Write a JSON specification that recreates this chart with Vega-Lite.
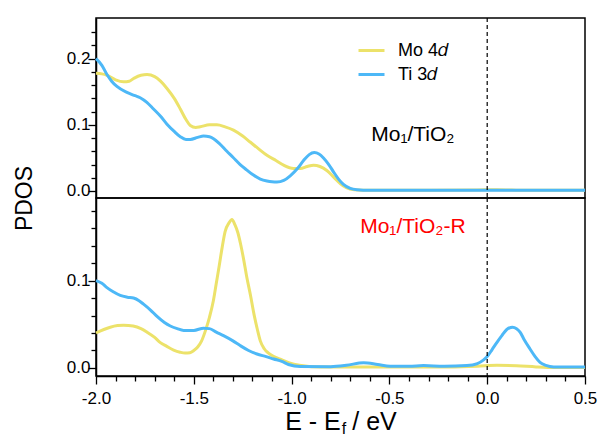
{
  "$schema": "https://vega.github.io/schema/vega-lite/v6.json",
  "padding": {"left": 12, "top": 16, "right": 5, "bottom": 0},
  "spacing": 0,
  "bounds": "flush",
  "config": {
    "font": "Liberation Sans",
    "view": {"stroke": "black", "strokeWidth": 1.5},
    "axis": {"labelFont": "Liberation Sans", "titleFont": "Liberation Sans", "labelColor": "black", "titleColor": "black", "domainColor": "black", "domainWidth": 1.5, "tickColor": "black", "tickWidth": 1.3, "grid": false, "labelFontSize": 17, "titleFontWeight": "normal", "labelFlush": false}
  },
  "datasets": {
    "pdos": [
      {"p":"top","s":"Mo 4𝑑","E":-2.0,"v":0.178},{"p":"top","s":"Mo 4𝑑","E":-1.97,"v":0.177},{"p":"top","s":"Mo 4𝑑","E":-1.944,"v":0.175},{"p":"top","s":"Mo 4𝑑","E":-1.9,"v":0.168},{"p":"top","s":"Mo 4𝑑","E":-1.859,"v":0.165},{"p":"top","s":"Mo 4𝑑","E":-1.83,"v":0.166},{"p":"top","s":"Mo 4𝑑","E":-1.808,"v":0.17},{"p":"top","s":"Mo 4𝑑","E":-1.77,"v":0.175},{"p":"top","s":"Mo 4𝑑","E":-1.739,"v":0.176},{"p":"top","s":"Mo 4𝑑","E":-1.7,"v":0.173},{"p":"top","s":"Mo 4𝑑","E":-1.67,"v":0.166},{"p":"top","s":"Mo 4𝑑","E":-1.637,"v":0.155},{"p":"top","s":"Mo 4𝑑","E":-1.6,"v":0.14},{"p":"top","s":"Mo 4𝑑","E":-1.569,"v":0.124},{"p":"top","s":"Mo 4𝑑","E":-1.54,"v":0.108},{"p":"top","s":"Mo 4𝑑","E":-1.518,"v":0.099},{"p":"top","s":"Mo 4𝑑","E":-1.49,"v":0.096},{"p":"top","s":"Mo 4𝑑","E":-1.467,"v":0.097},{"p":"top","s":"Mo 4𝑑","E":-1.42,"v":0.1},{"p":"top","s":"Mo 4𝑑","E":-1.382,"v":0.1},{"p":"top","s":"Mo 4𝑑","E":-1.34,"v":0.097},{"p":"top","s":"Mo 4𝑑","E":-1.297,"v":0.092},{"p":"top","s":"Mo 4𝑑","E":-1.25,"v":0.083},{"p":"top","s":"Mo 4𝑑","E":-1.212,"v":0.074},{"p":"top","s":"Mo 4𝑑","E":-1.17,"v":0.064},{"p":"top","s":"Mo 4𝑑","E":-1.126,"v":0.054},{"p":"top","s":"Mo 4𝑑","E":-1.08,"v":0.046},{"p":"top","s":"Mo 4𝑑","E":-1.041,"v":0.039},{"p":"top","s":"Mo 4𝑑","E":-0.99,"v":0.034},{"p":"top","s":"Mo 4𝑑","E":-0.956,"v":0.034},{"p":"top","s":"Mo 4𝑑","E":-0.92,"v":0.037},{"p":"top","s":"Mo 4𝑑","E":-0.888,"v":0.039},{"p":"top","s":"Mo 4𝑑","E":-0.855,"v":0.037},{"p":"top","s":"Mo 4𝑑","E":-0.82,"v":0.031},{"p":"top","s":"Mo 4𝑑","E":-0.785,"v":0.021},{"p":"top","s":"Mo 4𝑑","E":-0.75,"v":0.011},{"p":"top","s":"Mo 4𝑑","E":-0.72,"v":0.005},{"p":"top","s":"Mo 4𝑑","E":-0.68,"v":0.002},{"p":"top","s":"Mo 4𝑑","E":-0.6,"v":0.001},{"p":"top","s":"Mo 4𝑑","E":-0.3,"v":0.001},{"p":"top","s":"Mo 4𝑑","E":-0.05,"v":0.0015},{"p":"top","s":"Mo 4𝑑","E":0.05,"v":0.002},{"p":"top","s":"Mo 4𝑑","E":0.2,"v":0.001},{"p":"top","s":"Mo 4𝑑","E":0.5,"v":0.001},
      {"p":"top","s":"Ti 3𝑑","E":-2.0,"v":0.2},{"p":"top","s":"Ti 3𝑑","E":-1.97,"v":0.19},{"p":"top","s":"Ti 3𝑑","E":-1.944,"v":0.176},{"p":"top","s":"Ti 3𝑑","E":-1.92,"v":0.166},{"p":"top","s":"Ti 3𝑑","E":-1.893,"v":0.158},{"p":"top","s":"Ti 3𝑑","E":-1.842,"v":0.149},{"p":"top","s":"Ti 3𝑑","E":-1.8,"v":0.144},{"p":"top","s":"Ti 3𝑑","E":-1.774,"v":0.141},{"p":"top","s":"Ti 3𝑑","E":-1.74,"v":0.134},{"p":"top","s":"Ti 3𝑑","E":-1.706,"v":0.124},{"p":"top","s":"Ti 3𝑑","E":-1.67,"v":0.113},{"p":"top","s":"Ti 3𝑑","E":-1.637,"v":0.101},{"p":"top","s":"Ti 3𝑑","E":-1.6,"v":0.09},{"p":"top","s":"Ti 3𝑑","E":-1.569,"v":0.082},{"p":"top","s":"Ti 3𝑑","E":-1.54,"v":0.078},{"p":"top","s":"Ti 3𝑑","E":-1.518,"v":0.078},{"p":"top","s":"Ti 3𝑑","E":-1.48,"v":0.081},{"p":"top","s":"Ti 3𝑑","E":-1.45,"v":0.083},{"p":"top","s":"Ti 3𝑑","E":-1.42,"v":0.082},{"p":"top","s":"Ti 3𝑑","E":-1.399,"v":0.079},{"p":"top","s":"Ti 3𝑑","E":-1.37,"v":0.072},{"p":"top","s":"Ti 3𝑑","E":-1.331,"v":0.06},{"p":"top","s":"Ti 3𝑑","E":-1.3,"v":0.051},{"p":"top","s":"Ti 3𝑑","E":-1.263,"v":0.04},{"p":"top","s":"Ti 3𝑑","E":-1.23,"v":0.032},{"p":"top","s":"Ti 3𝑑","E":-1.195,"v":0.024},{"p":"top","s":"Ti 3𝑑","E":-1.16,"v":0.018},{"p":"top","s":"Ti 3𝑑","E":-1.126,"v":0.015},{"p":"top","s":"Ti 3𝑑","E":-1.1,"v":0.0138},{"p":"top","s":"Ti 3𝑑","E":-1.075,"v":0.0135},{"p":"top","s":"Ti 3𝑑","E":-1.04,"v":0.016},{"p":"top","s":"Ti 3𝑑","E":-1.007,"v":0.023},{"p":"top","s":"Ti 3𝑑","E":-0.97,"v":0.034},{"p":"top","s":"Ti 3𝑑","E":-0.939,"v":0.046},{"p":"top","s":"Ti 3𝑑","E":-0.91,"v":0.055},{"p":"top","s":"Ti 3𝑑","E":-0.884,"v":0.058},{"p":"top","s":"Ti 3𝑑","E":-0.86,"v":0.056},{"p":"top","s":"Ti 3𝑑","E":-0.837,"v":0.05},{"p":"top","s":"Ti 3𝑑","E":-0.81,"v":0.04},{"p":"top","s":"Ti 3𝑑","E":-0.786,"v":0.029},{"p":"top","s":"Ti 3𝑑","E":-0.76,"v":0.018},{"p":"top","s":"Ti 3𝑑","E":-0.735,"v":0.01},{"p":"top","s":"Ti 3𝑑","E":-0.7,"v":0.004},{"p":"top","s":"Ti 3𝑑","E":-0.666,"v":0.002},{"p":"top","s":"Ti 3𝑑","E":-0.6,"v":0.001},{"p":"top","s":"Ti 3𝑑","E":-0.2,"v":0.001},{"p":"top","s":"Ti 3𝑑","E":0.5,"v":0.001},
      {"p":"bot","s":"Mo 4𝑑","E":-2.0,"v":0.04},{"p":"bot","s":"Mo 4𝑑","E":-1.96,"v":0.044},{"p":"bot","s":"Mo 4𝑑","E":-1.927,"v":0.0466},{"p":"bot","s":"Mo 4𝑑","E":-1.89,"v":0.0485},{"p":"bot","s":"Mo 4𝑑","E":-1.859,"v":0.049},{"p":"bot","s":"Mo 4𝑑","E":-1.81,"v":0.048},{"p":"bot","s":"Mo 4𝑑","E":-1.77,"v":0.045},{"p":"bot","s":"Mo 4𝑑","E":-1.739,"v":0.041},{"p":"bot","s":"Mo 4𝑑","E":-1.7,"v":0.035},{"p":"bot","s":"Mo 4𝑑","E":-1.671,"v":0.029},{"p":"bot","s":"Mo 4𝑑","E":-1.64,"v":0.025},{"p":"bot","s":"Mo 4𝑑","E":-1.603,"v":0.0205},{"p":"bot","s":"Mo 4𝑑","E":-1.57,"v":0.018},{"p":"bot","s":"Mo 4𝑑","E":-1.545,"v":0.017},{"p":"bot","s":"Mo 4𝑑","E":-1.52,"v":0.0175},{"p":"bot","s":"Mo 4𝑑","E":-1.5,"v":0.02},{"p":"bot","s":"Mo 4𝑑","E":-1.48,"v":0.024},{"p":"bot","s":"Mo 4𝑑","E":-1.46,"v":0.031},{"p":"bot","s":"Mo 4𝑑","E":-1.44,"v":0.043},{"p":"bot","s":"Mo 4𝑑","E":-1.42,"v":0.058},{"p":"bot","s":"Mo 4𝑑","E":-1.4,"v":0.077},{"p":"bot","s":"Mo 4𝑑","E":-1.385,"v":0.097},{"p":"bot","s":"Mo 4𝑑","E":-1.37,"v":0.117},{"p":"bot","s":"Mo 4𝑑","E":-1.355,"v":0.138},{"p":"bot","s":"Mo 4𝑑","E":-1.34,"v":0.156},{"p":"bot","s":"Mo 4𝑑","E":-1.32,"v":0.166},{"p":"bot","s":"Mo 4𝑑","E":-1.305,"v":0.17},{"p":"bot","s":"Mo 4𝑑","E":-1.29,"v":0.164},{"p":"bot","s":"Mo 4𝑑","E":-1.275,"v":0.155},{"p":"bot","s":"Mo 4𝑑","E":-1.26,"v":0.141},{"p":"bot","s":"Mo 4𝑑","E":-1.245,"v":0.124},{"p":"bot","s":"Mo 4𝑑","E":-1.23,"v":0.105},{"p":"bot","s":"Mo 4𝑑","E":-1.21,"v":0.083},{"p":"bot","s":"Mo 4𝑑","E":-1.19,"v":0.059},{"p":"bot","s":"Mo 4𝑑","E":-1.175,"v":0.044},{"p":"bot","s":"Mo 4𝑑","E":-1.16,"v":0.031},{"p":"bot","s":"Mo 4𝑑","E":-1.14,"v":0.022},{"p":"bot","s":"Mo 4𝑑","E":-1.118,"v":0.017},{"p":"bot","s":"Mo 4𝑑","E":-1.09,"v":0.013},{"p":"bot","s":"Mo 4𝑑","E":-1.058,"v":0.01},{"p":"bot","s":"Mo 4𝑑","E":-1.011,"v":0.0057},{"p":"bot","s":"Mo 4𝑑","E":-0.96,"v":0.003},{"p":"bot","s":"Mo 4𝑑","E":-0.9,"v":0.0015},{"p":"bot","s":"Mo 4𝑑","E":-0.8,"v":0.001},{"p":"bot","s":"Mo 4𝑑","E":-0.5,"v":0.001},{"p":"bot","s":"Mo 4𝑑","E":-0.2,"v":0.0012},{"p":"bot","s":"Mo 4𝑑","E":-0.05,"v":0.002},{"p":"bot","s":"Mo 4𝑑","E":0.05,"v":0.003},{"p":"bot","s":"Mo 4𝑑","E":0.15,"v":0.0025},{"p":"bot","s":"Mo 4𝑑","E":0.25,"v":0.0012},{"p":"bot","s":"Mo 4𝑑","E":0.35,"v":0.0005},{"p":"bot","s":"Mo 4𝑑","E":0.5,"v":0.0005},
      {"p":"bot","s":"Ti 3𝑑","E":-2.0,"v":0.1},{"p":"bot","s":"Ti 3𝑑","E":-1.97,"v":0.097},{"p":"bot","s":"Ti 3𝑑","E":-1.944,"v":0.092},{"p":"bot","s":"Ti 3𝑑","E":-1.91,"v":0.087},{"p":"bot","s":"Ti 3𝑑","E":-1.876,"v":0.083},{"p":"bot","s":"Ti 3𝑑","E":-1.84,"v":0.081},{"p":"bot","s":"Ti 3𝑑","E":-1.808,"v":0.08},{"p":"bot","s":"Ti 3𝑑","E":-1.78,"v":0.077},{"p":"bot","s":"Ti 3𝑑","E":-1.757,"v":0.073},{"p":"bot","s":"Ti 3𝑑","E":-1.72,"v":0.066},{"p":"bot","s":"Ti 3𝑑","E":-1.688,"v":0.059},{"p":"bot","s":"Ti 3𝑑","E":-1.65,"v":0.052},{"p":"bot","s":"Ti 3𝑑","E":-1.62,"v":0.048},{"p":"bot","s":"Ti 3𝑑","E":-1.585,"v":0.045},{"p":"bot","s":"Ti 3𝑑","E":-1.552,"v":0.043},{"p":"bot","s":"Ti 3𝑑","E":-1.5,"v":0.043},{"p":"bot","s":"Ti 3𝑑","E":-1.45,"v":0.0455},{"p":"bot","s":"Ti 3𝑑","E":-1.42,"v":0.045},{"p":"bot","s":"Ti 3𝑑","E":-1.385,"v":0.041},{"p":"bot","s":"Ti 3𝑑","E":-1.348,"v":0.037},{"p":"bot","s":"Ti 3𝑑","E":-1.3,"v":0.031},{"p":"bot","s":"Ti 3𝑑","E":-1.263,"v":0.0256},{"p":"bot","s":"Ti 3𝑑","E":-1.22,"v":0.02},{"p":"bot","s":"Ti 3𝑑","E":-1.177,"v":0.016},{"p":"bot","s":"Ti 3𝑑","E":-1.13,"v":0.013},{"p":"bot","s":"Ti 3𝑑","E":-1.092,"v":0.0103},{"p":"bot","s":"Ti 3𝑑","E":-1.05,"v":0.0075},{"p":"bot","s":"Ti 3𝑑","E":-1.016,"v":0.004},{"p":"bot","s":"Ti 3𝑑","E":-0.956,"v":0.0016},{"p":"bot","s":"Ti 3𝑑","E":-0.8,"v":0.0015},{"p":"bot","s":"Ti 3𝑑","E":-0.72,"v":0.003},{"p":"bot","s":"Ti 3𝑑","E":-0.632,"v":0.006},{"p":"bot","s":"Ti 3𝑑","E":-0.56,"v":0.004},{"p":"bot","s":"Ti 3𝑑","E":-0.496,"v":0.002},{"p":"bot","s":"Ti 3𝑑","E":-0.4,"v":0.002},{"p":"bot","s":"Ti 3𝑑","E":-0.326,"v":0.0027},{"p":"bot","s":"Ti 3𝑑","E":-0.22,"v":0.002},{"p":"bot","s":"Ti 3𝑑","E":-0.104,"v":0.0027},{"p":"bot","s":"Ti 3𝑑","E":-0.05,"v":0.005},{"p":"bot","s":"Ti 3𝑑","E":-0.02,"v":0.009},{"p":"bot","s":"Ti 3𝑑","E":0.0,"v":0.013},{"p":"bot","s":"Ti 3𝑑","E":0.025,"v":0.021},{"p":"bot","s":"Ti 3𝑑","E":0.049,"v":0.029},{"p":"bot","s":"Ti 3𝑑","E":0.075,"v":0.037},{"p":"bot","s":"Ti 3𝑑","E":0.1,"v":0.044},{"p":"bot","s":"Ti 3𝑑","E":0.129,"v":0.0466},{"p":"bot","s":"Ti 3𝑑","E":0.15,"v":0.045},{"p":"bot","s":"Ti 3𝑑","E":0.168,"v":0.041},{"p":"bot","s":"Ti 3𝑑","E":0.19,"v":0.032},{"p":"bot","s":"Ti 3𝑑","E":0.219,"v":0.0217},{"p":"bot","s":"Ti 3𝑑","E":0.245,"v":0.013},{"p":"bot","s":"Ti 3𝑑","E":0.27,"v":0.0065},{"p":"bot","s":"Ti 3𝑑","E":0.3,"v":0.003},{"p":"bot","s":"Ti 3𝑑","E":0.34,"v":0.0012},{"p":"bot","s":"Ti 3𝑑","E":0.5,"v":0.001}
    ],
    "xtitle": [
      {"E": -0.7486, "v": -0.0712, "label": "E - E", "a": "right", "fs": 25},
      {"E": -0.744, "v": -0.0758, "label": "f", "a": "left", "fs": 16},
      {"E": -0.690, "v": -0.0712, "label": "/ eV", "a": "left", "fs": 25}
    ]
  },
  "resolve": {"scale": {"color": "independent", "y": "independent"}},
  "vconcat": [
    {
      "width": 489,
      "height": 180,
      "resolve": {"axis": {"y": "independent"}},
      "layer": [
        {
          "data": {"name": "pdos"},
          "transform": [{"filter": "datum.p == 'top'"}],
          "mark": {"type": "line", "strokeWidth": 3, "interpolate": "monotone"},
          "encoding": {
            "x": {"field": "E", "type": "quantitative", "scale": {"domain": [-2, 0.5], "nice": false, "zero": false}, "axis": null},
            "y": {"field": "v", "type": "quantitative", "scale": {"domain": [-0.0106, 0.2615], "nice": false, "zero": false},
              "axis": {
                "orient": "left",
                "title": "PDOS", "titleFontSize": 23, "titleX": -72, "titleY": 180, "titleAngle": -90, "titleBaseline": "middle", "titleAlign": "center",
                "values": [0, 0.1, 0.2], "format": ".1f", "tickSize": 8, "labelPadding": -2
              }},
            "color": {"field": "s", "type": "nominal", "scale": {"domain": ["Mo 4𝑑", "Ti 3𝑑"], "range": ["#ECE26A", "#4DB8F7"]},
              "legend": {"orient": "none", "legendX": 261, "legendY": 18, "title": null, "symbolType": "stroke", "symbolStrokeWidth": 3, "symbolSize": 676, "labelOffset": 12, "labelFontSize": 18, "labelFont": "Liberation Sans", "labelColor": "black", "rowPadding": 0, "padding": 0}}
          }
        },
        {
          "data": {"values": [{"E": 0}]},
          "mark": {"type": "rule", "color": "black", "strokeWidth": 1.2, "strokeDash": [4, 3]},
          "encoding": {"x": {"field": "E", "type": "quantitative", "axis": null}}
        },
        {
          "data": {"values": [{"E": -0.38, "v": 0.0755, "label": "Mo₁/TiO₂"}]},
          "mark": {"type": "text", "fontSize": 21, "align": "center", "baseline": "alphabetic", "color": "black"},
          "encoding": {
            "x": {"field": "E", "type": "quantitative", "axis": null},
            "y": {"field": "v", "type": "quantitative", "axis": {"orient": "left", "title": null, "labels": false, "domain": false, "tickSize": 5, "values": [0.02, 0.04, 0.06, 0.08, 0.12, 0.14, 0.16, 0.18, 0.22, 0.24]}},
            "text": {"field": "label"}
          }
        }
      ]
    },
    {
      "width": 489,
      "height": 178,
      "resolve": {"axis": {"y": "independent", "x": "independent"}},
      "layer": [
        {
          "data": {"name": "pdos"},
          "transform": [{"filter": "datum.p == 'bot'"}],
          "mark": {"type": "line", "strokeWidth": 3, "interpolate": "monotone"},
          "encoding": {
            "x": {"field": "E", "type": "quantitative", "scale": {"domain": [-2, 0.5], "nice": false, "zero": false},
              "axis": {
                "orient": "bottom",
                "title": null,
                "values": [-2, -1.5, -1, -0.5, 0, 0.5],
                "labelExpr": "replace(format(datum.value, '.1f'), '−', '-')",
                "tickSize": 8, "labelPadding": 6
              }},
            "y": {"field": "v", "type": "quantitative", "scale": {"domain": [-0.0092, 0.1945], "nice": false, "zero": false},
              "axis": {"orient": "left", "title": null, "values": [0, 0.1], "format": ".1f", "tickSize": 8, "labelPadding": -2}},
            "color": {"field": "s", "type": "nominal", "scale": {"domain": ["Mo 4𝑑", "Ti 3𝑑"], "range": ["#ECE26A", "#4DB8F7"]}, "legend": null}
          }
        },
        {
          "data": {"values": [{"E": 0}]},
          "mark": {"type": "rule", "color": "black", "strokeWidth": 1.2, "strokeDash": [4, 3]},
          "encoding": {"x": {"field": "E", "type": "quantitative", "axis": null}}
        },
        {
          "data": {"values": [{"E": -0.38, "v": 0.155, "label": "Mo₁/TiO₂-R"}]},
          "mark": {"type": "text", "fontSize": 21, "align": "center", "baseline": "alphabetic", "color": "#FF0000"},
          "encoding": {
            "x": {"field": "E", "type": "quantitative", "axis": {"orient": "bottom", "title": null, "labels": false, "domain": false, "tickSize": 5, "values": [-1.9, -1.8, -1.7, -1.6, -1.4, -1.3, -1.2, -1.1, -0.9, -0.8, -0.7, -0.6, -0.4, -0.3, -0.2, -0.1, 0.1, 0.2, 0.3, 0.4]}},
            "y": {"field": "v", "type": "quantitative", "axis": {"orient": "left", "title": null, "labels": false, "domain": false, "tickSize": 5, "values": [0.02, 0.04, 0.06, 0.08, 0.12, 0.14, 0.16, 0.18]}},
            "text": {"field": "label"}
          }
        },
        {
          "data": {"name": "xtitle"},
          "transform": [{"filter": "datum.a == 'right'"}],
          "mark": {"type": "text", "align": "right", "baseline": "alphabetic", "color": "black"},
          "encoding": {
            "x": {"field": "E", "type": "quantitative", "axis": null},
            "y": {"field": "v", "type": "quantitative", "axis": null},
            "size": {"field": "fs", "type": "quantitative", "scale": null, "legend": null},
            "text": {"field": "label"}
          }
        },
        {
          "data": {"name": "xtitle"},
          "transform": [{"filter": "datum.a == 'left'"}],
          "mark": {"type": "text", "align": "left", "baseline": "alphabetic", "color": "black"},
          "encoding": {
            "x": {"field": "E", "type": "quantitative", "axis": null},
            "y": {"field": "v", "type": "quantitative", "axis": null},
            "size": {"field": "fs", "type": "quantitative", "scale": null, "legend": null},
            "text": {"field": "label"}
          }
        }
      ]
    }
  ]
}
